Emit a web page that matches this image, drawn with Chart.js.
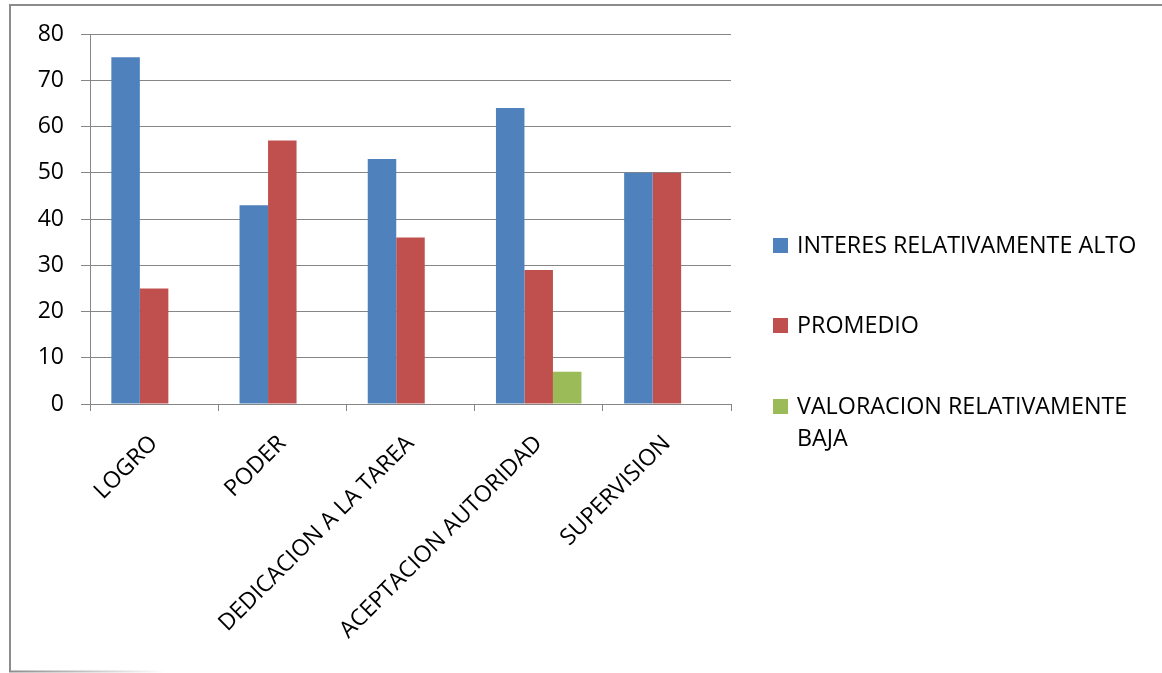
<!DOCTYPE html>
<html>
<head>
<meta charset="utf-8">
<script src="https://cdn.jsdelivr.net/npm/chart.js@4/dist/chart.umd.min.js"></script>
<style>
  html, body { margin: 0; padding: 0; background: #fff; }
  #wrap { width: 1162px; height: 673px; position: relative; }
</style>
</head>
<body>
<div id="wrap"><canvas id="c" width="1162" height="673"></canvas></div>
<script>
// Categories and series values
const categories = ['LOGRO', 'PODER', 'DEDICACION A LA TAREA', 'ACEPTACION AUTORIDAD', 'SUPERVISION'];
const interesAlto = [75, 43, 53, 64, 50];
const promedio = [25, 57, 36, 29, 50];
const valoracionBaja = [0, 0, 0, 7, 0];
const seriesNames = ['INTERES RELATIVAMENTE ALTO', 'PROMEDIO', 'VALORACION RELATIVAMENTE BAJA'];
const seriesColors = ['#4F81BD', '#C0504D', '#9BBB59'];
const yMin = 0, yMax = 80, yStep = 10;

const FONT = '"Open Sans", "Noto Sans", sans-serif';
const AXIS_GRAY = '#868686';

// Outer frame: top and left edges, short fading bottom edge
const framePlugin = {
  id: 'frame',
  beforeDraw(chart) {
    const ctx = chart.ctx;
    ctx.save();
    ctx.strokeStyle = '#8c8c8c';
    ctx.lineWidth = 2;
    ctx.beginPath();
    ctx.moveTo(9, 5);
    ctx.lineTo(chart.width, 5);
    ctx.moveTo(10, 4);
    ctx.lineTo(10, 672);
    ctx.stroke();
    const g = ctx.createLinearGradient(9, 0, 165, 0);
    g.addColorStop(0, 'rgba(140,140,140,1)');
    g.addColorStop(1, 'rgba(140,140,140,0)');
    ctx.strokeStyle = g;
    ctx.beginPath();
    ctx.moveTo(9, 671.5);
    ctx.lineTo(165, 671.5);
    ctx.stroke();
    ctx.restore();
  }
};

// Legend drawn at the right of the plot, one square marker per series
const sideLegend = {
  id: 'sideLegend',
  afterDraw(chart) {
    const ctx = chart.ctx;
    const area = chart.chartArea;
    const boxX = area.right + 42;
    const textX = boxX + 24;
    const maxW = chart.width - textX - 8;
    const rows = [245, 325, 406];
    const lineH = 32;
    ctx.save();
    ctx.font = '23.3px ' + FONT;
    ctx.textBaseline = 'middle';
    ctx.textAlign = 'left';
    chart.data.datasets.forEach((ds, i) => {
      const y = rows[i];
      ctx.fillStyle = ds.backgroundColor;
      ctx.fillRect(boxX, y - 7, 15, 15);
      // simple word wrap
      const words = ds.label.split(' ');
      const lines = [];
      let cur = '';
      words.forEach(w => {
        const t = cur ? cur + ' ' + w : w;
        if (ctx.measureText(t).width > maxW && cur) { lines.push(cur); cur = w; }
        else cur = t;
      });
      if (cur) lines.push(cur);
      ctx.fillStyle = '#000';
      lines.forEach((ln, k) => ctx.fillText(ln, textX, y + 1 + k * lineH));
    });
    ctx.restore();
  }
};

new Chart(document.getElementById('c'), {
  type: 'bar',
  data: {
    labels: categories,
    datasets: [
      { label: seriesNames[0], data: interesAlto, backgroundColor: seriesColors[0] },
      { label: seriesNames[1], data: promedio, backgroundColor: seriesColors[1] },
      { label: seriesNames[2], data: valoracionBaja, backgroundColor: seriesColors[2] }
    ]
  },
  options: {
    responsive: false,
    animation: false,
    devicePixelRatio: 1,
    layout: { padding: { top: 34, right: 431, left: 0, bottom: 0 } },
    datasets: { bar: { categoryPercentage: 0.667, barPercentage: 1.0, borderWidth: 0 } },
    plugins: { legend: { display: false }, tooltip: { enabled: false } },
    scales: {
      x: {
        grid: { drawOnChartArea: false, drawTicks: true, tickLength: 7, color: AXIS_GRAY, offset: true },
        border: { color: AXIS_GRAY, width: 1 },
        ticks: { minRotation: 45, maxRotation: 45, autoSkip: false, padding: 19, color: '#000', font: { family: FONT, size: 23 } },
        afterFit(s) { s.height = 269; }
      },
      y: {
        min: yMin, max: yMax,
        grid: { color: AXIS_GRAY, tickLength: 9 },
        border: { color: AXIS_GRAY, width: 1 },
        ticks: { stepSize: yStep, padding: 17, color: '#000', font: { family: FONT, size: 23 } },
        afterFit(s) { s.width = 90; }
      }
    }
  },
  plugins: [framePlugin, sideLegend]
});
</script>
</body>
</html>
